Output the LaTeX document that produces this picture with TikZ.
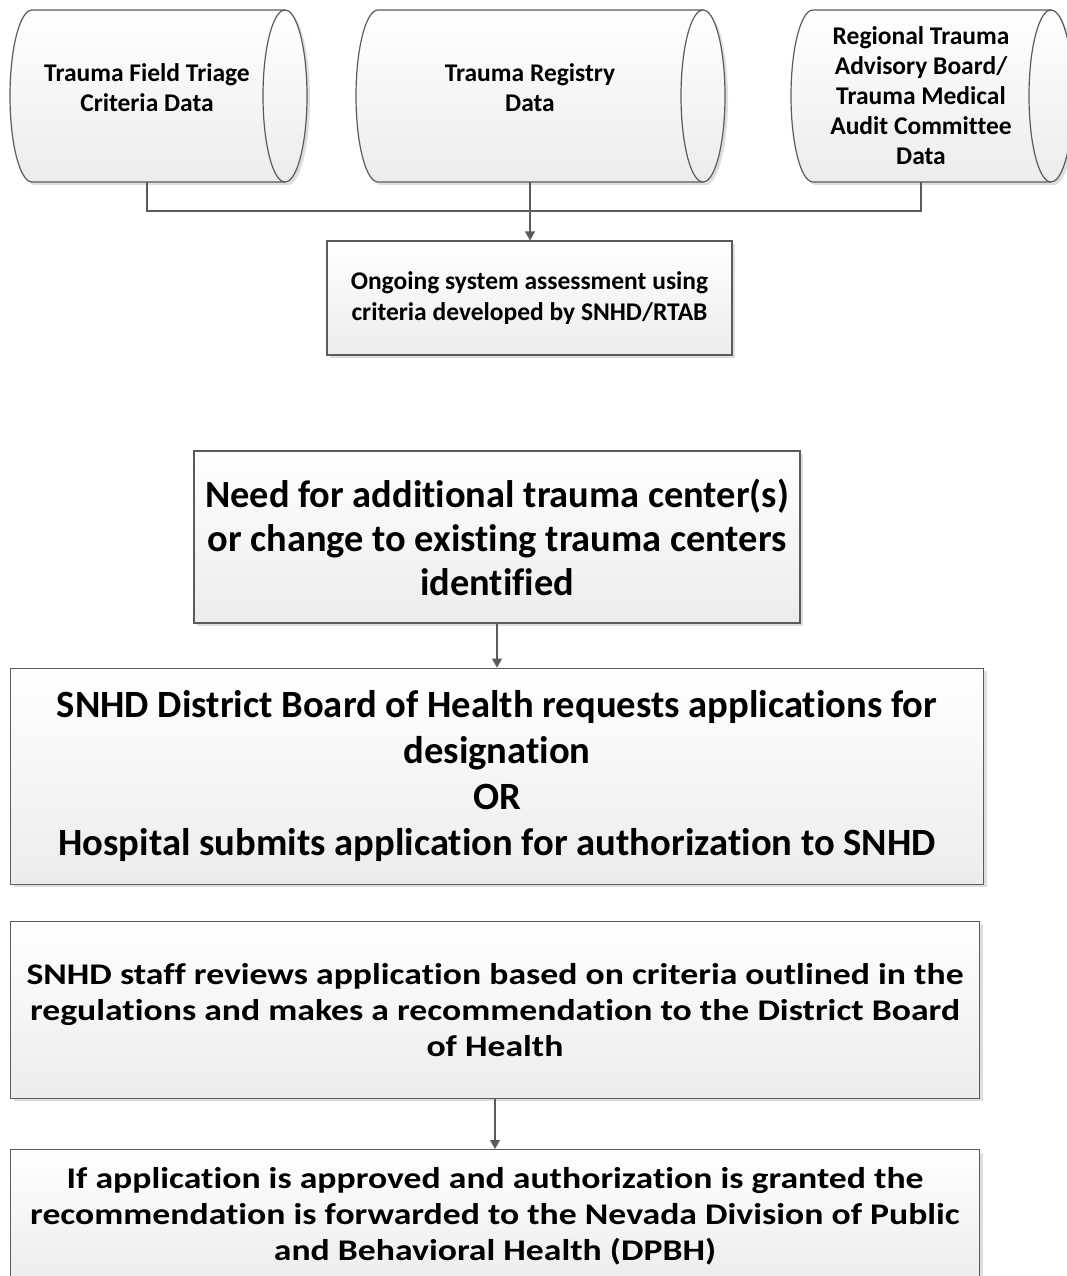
\documentclass[tikz,border=0pt]{standalone}
\usepackage{fontspec}
\setmainfont{Carlito}[Ligatures=NoCommon]
\newfontfamily\widefont{Carlito}[FakeStretch=1.19, Ligatures=NoCommon]
\usetikzlibrary{positioning,arrows.meta,shadows}
\definecolor{edgegray}{HTML}{5B5B5B}
\definecolor{shadegray}{HTML}{ECECEC}
\tikzset{
  flowbox/.style={draw=edgegray, line width=1.2pt, top color=white, bottom color=shadegray,
    align=center, inner sep=0pt,
    drop shadow={shadow xshift=3pt, shadow yshift=-3pt, fill=black!13, opacity=1}},
  store/.style={draw=edgegray, line width=1.2pt, top color=white, bottom color=shadegray,
    drop shadow={shadow xshift=3pt, shadow yshift=-3pt, fill=black!13, opacity=1}},
  storetext/.style={align=center, inner sep=0pt, font=\bfseries\fontsize{25.5}{30}\selectfont},
  link/.style={draw=edgegray, line width=1.2pt},
  tip/.style={-{Triangle[width=10pt,length=9pt]}}
}
\begin{document}
\begin{tikzpicture}[x=1pt,y=1pt]
  \useasboundingbox (0,0) rectangle (1067,-1276);
  % data stores
  \draw[store] (32,-10) -- (285,-10) arc[start angle=90, end angle=-90, x radius=22pt, y radius=86pt]
    -- (32,-182) arc[start angle=270, end angle=90, x radius=22pt, y radius=86pt] -- cycle;
  \draw[link] (285,-10) arc[start angle=90, end angle=270, x radius=22pt, y radius=86pt];
  \draw[store] (378,-10) -- (703,-10) arc[start angle=90, end angle=-90, x radius=22pt, y radius=86pt]
    -- (378,-182) arc[start angle=270, end angle=90, x radius=22pt, y radius=86pt] -- cycle;
  \draw[link] (703,-10) arc[start angle=90, end angle=270, x radius=22pt, y radius=86pt];
  \draw[store] (813,-10) -- (1051,-10) arc[start angle=90, end angle=-90, x radius=22pt, y radius=86pt]
    -- (813,-182) arc[start angle=270, end angle=90, x radius=22pt, y radius=86pt] -- cycle;
  \draw[link] (1051,-10) arc[start angle=90, end angle=270, x radius=22pt, y radius=86pt];
  \node[storetext] (field) at (147,-88) {Trauma Field Triage\\Criteria Data};
  \node[storetext] (registry) at (530,-88) {Trauma Registry\\Data};
  \node[storetext] (audit) at (921,-96) {Regional Trauma\\Advisory Board/\\Trauma Medical\\Audit Committee\\Data};
  \coordinate (field-b) at (147,-182);
  \coordinate (registry-b) at (530,-182);
  \coordinate (audit-b) at (921,-182);
  \coordinate (merge) at (530,-211);
  % process boxes
  \node[flowbox, minimum width=405pt, minimum height=114pt,
    font=\bfseries\fontsize{25.5}{31}\selectfont] (assess) at (529.5,-298)
    {Ongoing system assessment using\\criteria developed by SNHD/RTAB};
  \node[flowbox, minimum width=606pt, minimum height=172pt,
    font=\bfseries\fontsize{38.4}{44}\selectfont] (need) at (497,-537)
    {Need for additional trauma center(s)\\or change to existing trauma centers\\identified};
  \node[flowbox, below=44pt of need, minimum width=973pt, minimum height=216pt,
    font=\bfseries\fontsize{38.6}{46}\selectfont] (request)
    {SNHD District Board of Health requests applications for\\designation\\OR\\Hospital submits application for authorization to SNHD};
  \node[flowbox, below right=36pt and 0pt of request.south west, minimum width=969pt, minimum height=177pt,
    font=\widefont\bfseries\fontsize{30}{36}\selectfont] (review)
    {SNHD staff reviews application based on criteria outlined in the\\regulations and makes a recommendation to the District Board\\of Health};
  \node[flowbox, below=50pt of review, minimum width=969pt, minimum height=134pt,
    font=\widefont\bfseries\fontsize{30}{36}\selectfont] (forward)
    {If application is approved and authorization is granted the\\recommendation is forwarded to the Nevada Division of Public\\and Behavioral Health (DPBH)};
  % connectors
  \draw[link] (field-b) |- (merge) -| (audit-b);
  \draw[link, tip] (registry-b) -- (registry-b |- assess.north);
  \draw[link, tip] (need) -- (need |- request.north);
  \draw[link, tip] (review) -- (forward);
\end{tikzpicture}
\end{document}
